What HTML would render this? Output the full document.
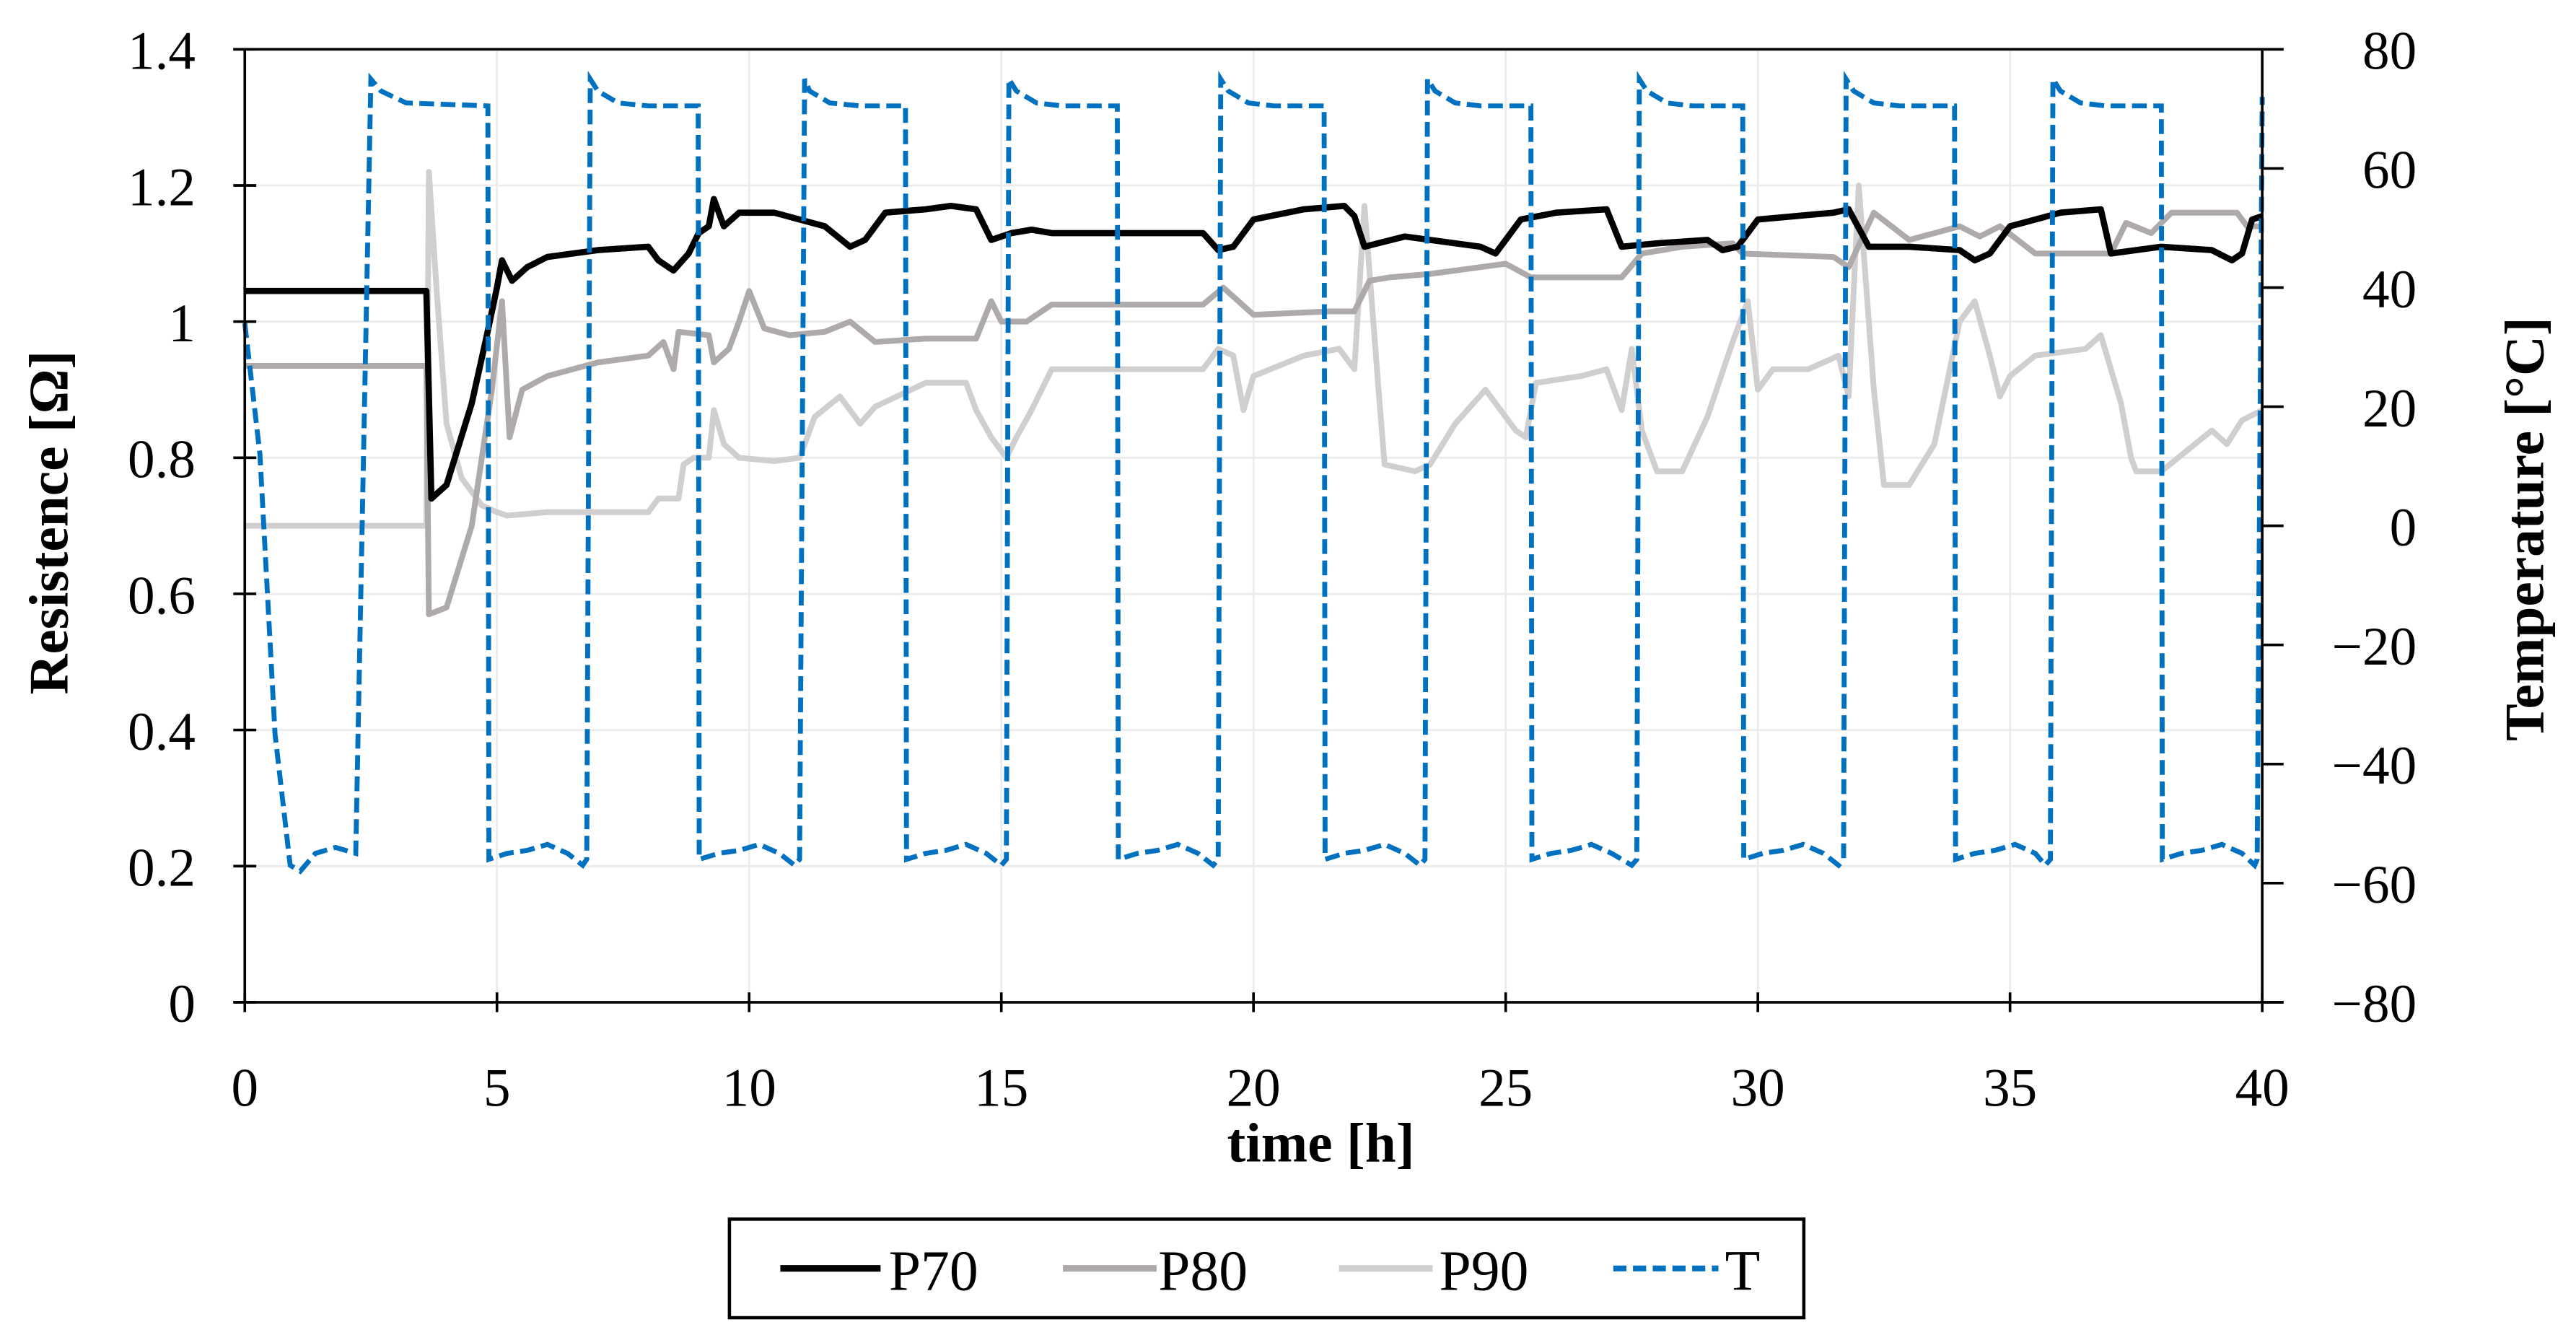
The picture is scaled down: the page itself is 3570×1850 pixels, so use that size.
<!DOCTYPE html>
<html><head><meta charset="utf-8"><style>
html,body{margin:0;padding:0;background:#fff;}
svg{display:block;font-family:"Liberation Serif",serif;}
</style></head><body>
<svg id="chart" width="3570" height="1850" viewBox="0 0 1568 812.5" xmlns="http://www.w3.org/2000/svg">
<g id="grid"></g>
<g id="series"></g>
<g id="axes"></g>
<text transform="translate(41,318) rotate(-90)" text-anchor="middle" font-size="34" font-weight="bold">Resistence [Ω]</text>
<text transform="translate(1548,322) rotate(-90)" text-anchor="middle" font-size="34" font-weight="bold">Temperature [°C]</text>
<text x="804" y="707" text-anchor="middle" font-size="34" font-weight="bold">time [h]</text>
<g>
<rect x="444" y="742" width="654" height="60" fill="#fff" stroke="#000" stroke-width="2"/>
<g><line x1="475" y1="772" x2="536" y2="772" stroke="#000" stroke-width="4"/><text x="541" y="785" font-size="35">P70</text></g>
<g><line x1="647" y1="772" x2="704" y2="772" stroke="#aeaaaa" stroke-width="4"/><text x="705" y="785" font-size="35">P80</text></g>
<g><line x1="815" y1="772" x2="872" y2="772" stroke="#d0cece" stroke-width="4"/><text x="876" y="785" font-size="35">P90</text></g>
<g><line x1="982" y1="772" x2="1046" y2="772" stroke="#0070c0" stroke-width="3.5" stroke-dasharray="8,4"/><text x="1050" y="785" font-size="35">T</text></g>
</g>
</svg>
<script>
const xTicks=[0,5,10,15,20,25,30,35,40];
const yTicks=[0,0.2,0.4,0.6,0.8,1,1.2,1.4];
const yTickLabels=["0","0.2","0.4","0.6","0.8","1","1.2","1.4"];
const y2Ticks=[-80,-60,-40,-20,0,20,40,60,80];
const y2TickLabels=["\u221280","\u221260","\u221240","\u221220","0","20","40","60","80"];

const tP70=[0,3.6,3.7,4.0,4.5,4.8,5.0,5.1,5.3,5.6,6,7,8,8.2,8.5,8.8,9.0,9.2,9.3,9.5,9.8,10.5,11,11.5,12,12.3,12.7,13.5,14,14.5,14.8,15.2,15.6,16,19,19.3,19.6,20,21,21.8,22,22.2,23,24.5,24.8,25.3,26,27,27.3,28,29,29.3,29.6,30,31.5,31.8,32.2,33,34,34.3,34.6,35,36,36.8,37,38,39,39.4,39.6,39.8,40];
const vP70=[1.045,1.045,0.74,0.76,0.88,0.98,1.05,1.09,1.06,1.08,1.095,1.105,1.11,1.09,1.075,1.10,1.13,1.14,1.18,1.14,1.16,1.16,1.15,1.14,1.11,1.12,1.16,1.165,1.17,1.165,1.12,1.13,1.135,1.13,1.13,1.105,1.11,1.15,1.165,1.17,1.155,1.11,1.125,1.11,1.10,1.15,1.16,1.165,1.11,1.115,1.12,1.105,1.11,1.15,1.16,1.165,1.11,1.11,1.105,1.09,1.10,1.14,1.16,1.165,1.10,1.11,1.105,1.09,1.10,1.15,1.155];

const tP80=[0,3.6,3.65,4.0,4.5,4.9,5.1,5.25,5.5,6,7,8,8.3,8.5,8.6,9.2,9.3,9.6,9.8,10,10.3,10.8,11.5,12,12.5,13.5,14.5,14.8,15.0,15.5,16,19,19.4,20,21.5,22,22.3,22.7,23.5,24.5,25,25.5,27.3,27.7,28.5,29.5,29.7,31.5,31.8,32.3,33,33.5,34,34.4,34.8,35.5,36.5,37,37.3,37.8,38.2,39,39.5,39.7,40];
const vP80=[0.935,0.935,0.57,0.58,0.70,0.90,1.03,0.83,0.90,0.92,0.94,0.95,0.97,0.93,0.985,0.98,0.94,0.96,1.0,1.045,0.99,0.98,0.985,1.0,0.97,0.975,0.975,1.03,1.0,1.0,1.025,1.025,1.05,1.01,1.015,1.015,1.06,1.065,1.07,1.08,1.085,1.065,1.065,1.10,1.11,1.115,1.10,1.095,1.08,1.16,1.12,1.13,1.14,1.125,1.14,1.10,1.10,1.10,1.145,1.13,1.16,1.16,1.16,1.14,1.14];

const tP90=[0,3.6,3.65,3.8,4.0,4.3,4.7,5,5.2,6,8,8.2,8.6,8.7,8.9,9.2,9.3,9.5,9.8,10.5,11,11.3,11.8,12.2,12.5,13.5,14.3,14.5,14.8,15.1,15.3,15.6,16,19,19.3,19.6,19.8,20,21,21.7,22.0,22.2,22.5,22.6,23.2,23.5,24,24.6,25.2,25.4,25.6,26.5,27,27.3,27.5,27.7,28,28.5,29,29.5,29.8,30,30.3,31,31.6,31.8,32,32.3,32.5,33,33.5,34,34.3,34.6,34.8,35,35.5,36.5,36.8,37,37.2,37.4,37.5,38,38.5,39,39.3,39.6,40];
const vP90=[0.70,0.70,1.22,1.05,0.85,0.77,0.73,0.72,0.715,0.72,0.72,0.74,0.74,0.79,0.80,0.80,0.87,0.82,0.80,0.795,0.80,0.86,0.89,0.85,0.875,0.91,0.91,0.87,0.83,0.80,0.83,0.87,0.93,0.93,0.96,0.95,0.87,0.92,0.95,0.96,0.93,1.17,0.88,0.79,0.78,0.79,0.85,0.90,0.84,0.83,0.91,0.92,0.93,0.87,0.96,0.84,0.78,0.78,0.86,0.97,1.03,0.90,0.93,0.93,0.95,0.89,1.20,0.90,0.76,0.76,0.82,1.00,1.03,0.95,0.89,0.92,0.95,0.96,0.98,0.93,0.88,0.80,0.78,0.78,0.81,0.84,0.82,0.855,0.87];

const tT=[0,0.3,0.6,0.9,1.1,1.4,1.8,2.2,2.5,2.7,3.2,4.82,4.84,5.2,5.6,6.0,6.4,6.7,6.78,6.85,7.0,7.4,8.0,8.99,9.01,9.4,9.8,10.2,10.6,10.9,11.0,11.1,11.2,11.6,12.2,13.1,13.12,13.5,13.9,14.3,14.7,15.0,15.1,15.15,15.3,15.7,16.2,17.3,17.32,17.7,18.1,18.5,18.9,19.2,19.3,19.35,19.5,19.9,20.4,21.4,21.42,21.8,22.2,22.6,23.0,23.3,23.4,23.45,23.6,24.0,24.5,25.5,25.52,25.9,26.3,26.7,27.1,27.5,27.6,27.65,27.8,28.2,28.7,29.7,29.72,30.1,30.5,30.9,31.3,31.6,31.7,31.75,31.9,32.3,32.8,33.9,33.92,34.3,34.7,35.1,35.5,35.7,35.8,35.85,36.0,36.4,36.9,38.0,38.02,38.4,38.8,39.2,39.6,39.85,39.9,40];
const vT=[34,12,-35,-57,-58,-55,-54,-55,75,73,71,70.5,-56,-55,-54.5,-53.5,-55,-57,-56,75,73,71,70.5,70.5,-56,-55,-54.5,-53.5,-55,-57,-56,75,73,71,70.5,70.5,-56,-55,-54.5,-53.5,-55,-57,-56,75,73,71,70.5,70.5,-56,-55,-54.5,-53.5,-55,-57,-56,75,73,71,70.5,70.5,-56,-55,-54.5,-53.5,-55,-57,-56,75,73,71,70.5,70.5,-56,-55,-54.5,-53.5,-55,-57,-56,75,73,71,70.5,70.5,-56,-55,-54.5,-53.5,-55,-57,-56,75,73,71,70.5,70.5,-56,-55,-54.5,-53.5,-55,-57,-56,75,73,71,70.5,70.5,-56,-55,-54.5,-53.5,-55,-57,-56,72];

const L=149,R=1377,T0=30,B=610;
function sx(t){return L+(t-0)/(40-0)*(R-L);}
function sy(v){return B-(v-0)/(1.4-0)*(B-T0);}
function sy2(v){return B-(v+80)/160*(B-T0);}
const NS="http://www.w3.org/2000/svg";
function mk(tag,attrs,parent){const e=document.createElementNS(NS,tag);for(const k in attrs)e.setAttribute(k,attrs[k]);parent.appendChild(e);return e;}
const grid=document.getElementById('grid'),axes=document.getElementById('axes'),series=document.getElementById('series');

xTicks.forEach(t=>{
  if(t>0&&t<40){const g=mk('line',{x1:sx(t),x2:sx(t),y1:T0,y2:B,stroke:'#ebebeb','stroke-width':1.2},grid);
  
  }
  const tk=mk('line',{x1:sx(t),x2:sx(t),y1:B-6,y2:B+6,stroke:'#000','stroke-width':1.6},axes);
  
  
  const lb=mk('text',{x:sx(t),y:673,'text-anchor':'middle','font-size':33},axes);
  lb.textContent=String(t);
  
  
});
yTicks.forEach((v,i)=>{
  if(v>0&&v<1.4){const g=mk('line',{x1:L,x2:R,y1:sy(v),y2:sy(v),stroke:'#ebebeb','stroke-width':1.2},grid);
  
  }
  const tk=mk('line',{x1:L-7,x2:L+7,y1:sy(v),y2:sy(v),stroke:'#000','stroke-width':1.6},axes);
  
  
  const lb=mk('text',{x:119,y:sy(v)+12,'text-anchor':'end','font-size':33},axes);
  lb.textContent=yTickLabels[i];
  
  
});
y2Ticks.forEach((v,i)=>{
  const tk=mk('line',{x1:R,x2:R+13,y1:sy2(v),y2:sy2(v),stroke:'#000','stroke-width':1.6},axes);
  
  
  const lb=mk('text',{x:1471,y:sy2(v)+12,'text-anchor':'end','font-size':33},axes);
  lb.textContent=y2TickLabels[i];
  
  
});
let a;
a=mk('line',{x1:L,x2:L,y1:T0,y2:B,stroke:'#000','stroke-width':1.6},axes);


a=mk('line',{x1:R,x2:R,y1:T0,y2:B,stroke:'#000','stroke-width':1.6},axes);


a=mk('line',{x1:L-7,x2:R+13,y1:B,y2:B,stroke:'#000','stroke-width':1.6},axes);


a=mk('line',{x1:L-7,x2:R+13,y1:T0,y2:T0,stroke:'#000','stroke-width':1.6},axes);



function pathD(ts,vs,f){return ts.map((t,i)=>(i?'L':'M')+sx(t).toFixed(2)+','+f(vs[i]).toFixed(2)).join(' ');}
let p;
p=mk('path',{d:pathD(tP90,vP90,sy),fill:'none',stroke:'#d0cece','stroke-width':3.5,'stroke-linejoin':'round'},series);


p=mk('path',{d:pathD(tP80,vP80,sy),fill:'none',stroke:'#aeaaaa','stroke-width':3.5,'stroke-linejoin':'round'},series);


p=mk('path',{d:pathD(tP70,vP70,sy),fill:'none',stroke:'#000','stroke-width':3.8,'stroke-linejoin':'round'},series);


p=mk('path',{d:pathD(tT,vT,sy2),fill:'none',stroke:'#0070c0','stroke-width':3,'stroke-dasharray':'9,4'},series);


</script>
</body></html>
